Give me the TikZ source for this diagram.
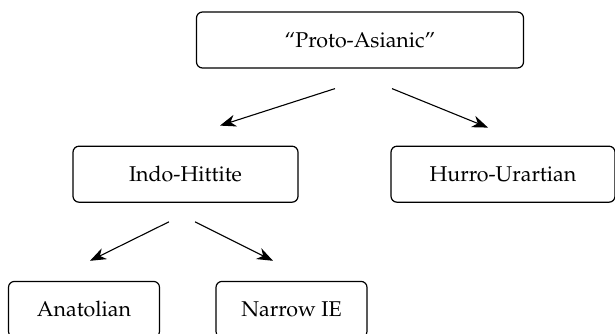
\documentclass[tikz,border=0pt]{standalone}
\usepackage[T1]{fontenc}
\usepackage{mathpazo}
\usepackage{tikz}
\usetikzlibrary{positioning,arrows.meta}
\tikzset{
  lang/.style={rectangle, rounded corners=3pt, draw=black, line width=0.6pt,
               align=center, inner sep=4pt, minimum height=28pt,
               font=\fontsize{10.7}{13}\selectfont},
  ar/.style={-{Stealth[length=8pt,width=6pt,inset=2.5pt]}, line width=0.55pt},
}

\begin{document}
\begin{tikzpicture}
  \useasboundingbox (0,0) rectangle (307.5pt,-166.5pt);

  \node[lang, minimum width=163.5pt] (proto) at (180pt,-20pt) {``Proto-Asianic''};

  \node[lang, below=38.5pt of proto, xshift=-87.25pt, minimum width=112.5pt] (indo) {Indo-Hittite};
  \node[lang, below=38.5pt of proto, xshift=71.5pt, minimum width=112pt] (hurro) {Hurro-Urartian};

  \node[lang, below=39pt of indo, xshift=-50.75pt, minimum width=75.5pt] (anat) {Anatolian};
  \node[lang, below=39pt of indo, xshift=53pt, minimum width=75.5pt] (narrow) {Narrow IE};

  \draw[ar] ([xshift=-12.5pt,yshift=-10pt]proto.south) -- ([xshift=17.25pt,yshift=10pt]indo.north);
  \draw[ar] ([xshift=16pt,yshift=-10pt]proto.south) -- ([xshift=-7.5pt,yshift=9pt]hurro.north);
  \draw[ar] ([xshift=-8.25pt,yshift=-9.5pt]indo.south) -- ([xshift=3pt,yshift=10pt]anat.north);
  \draw[ar] ([xshift=4.75pt,yshift=-9.5pt]indo.south) -- ([xshift=-9.25pt,yshift=10pt]narrow.north);
\end{tikzpicture}
\end{document}
